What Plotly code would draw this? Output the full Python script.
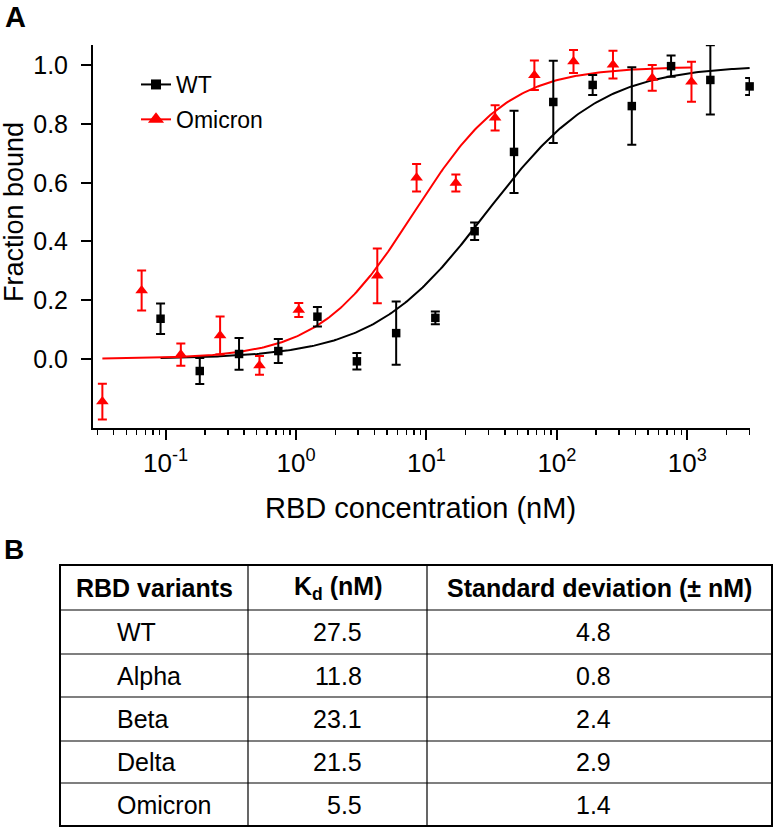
import numpy as np
import plotly.graph_objects as go

W, H = 774, 828

# ---------------- data (panel A) ----------------
wt_conc = [0.0916, 0.183, 0.366, 0.732, 1.46, 2.93, 5.86, 11.7, 23.4, 46.9,
           93.8, 188, 375, 750, 1500, 3000]
wt_frac = [0.137, -0.041, 0.017, 0.027, 0.144, -0.008, 0.088, 0.140, 0.435, 0.705,
           0.875, 0.933, 0.861, 0.997, 0.950, 0.928]
wt_err = [0.052, 0.044, 0.054, 0.041, 0.033, 0.028, 0.108, 0.022, 0.030, 0.140,
          0.140, 0.034, 0.132, 0.036, 0.118, 0.029]

om_conc = [0.0328, 0.0656, 0.131, 0.262, 0.525, 1.05, 4.2, 8.4, 16.8, 33.6,
           67.2, 134, 269, 538, 1075]
om_frac = [-0.145, 0.233, 0.015, 0.080, -0.022, 0.167, 0.283, 0.617, 0.599, 0.821,
           0.966, 1.013, 1.002, 0.957, 0.944]
om_err = [0.061, 0.068, 0.038, 0.065, 0.032, 0.024, 0.093, 0.047, 0.029, 0.043,
          0.050, 0.039, 0.047, 0.044, 0.068]

# fit parameters (Hill curve)
wt_fit = dict(k=29.0, n=1.0, bmax=1.0)
om_fit = dict(k=8.0, n=1.2, bmax=0.995)

x_tickvals = [0.1, 1, 10, 100, 1000]
x_ticktext = ["10<sup>-1</sup>", "10<sup>0</sup>", "10<sup>1</sup>", "10<sup>2</sup>", "10<sup>3</sup>"]
y_tickvals = [0.0, 0.2, 0.4, 0.6, 0.8, 1.0]

# ---------------- data (panel B) ----------------
tbl_header = ["<b>RBD variants</b>", "<b>K<sub>d</sub> (nM)</b>", "<b>Standard deviation (± nM)</b>"]
variants = ["WT", "Alpha", "Beta", "Delta", "Omicron"]
kd_vals = ["27.5", "11.8", "23.1", "21.5", "5.5"]
sd_vals = ["4.8", "0.8", "2.4", "2.9", "1.4"]

FONT = "Liberation Sans, Arial, sans-serif"
RED = "#ff0000"


def hill(x, p):
    x = np.asarray(x, dtype=float)
    return p["bmax"] * x ** p["n"] / (p["k"] ** p["n"] + x ** p["n"])


def px(x):
    return x / W


def py(y):
    return 1 - y / H


fig = go.Figure()

# fit curves
xw = np.logspace(np.log10(wt_conc[0]), np.log10(wt_conc[-1]), 300)
xo = np.logspace(np.log10(om_conc[0]), np.log10(om_conc[-1]), 300)
fig.add_trace(go.Scatter(x=xw, y=hill(xw, wt_fit), mode="lines",
                         line=dict(color="black", width=2), showlegend=False, hoverinfo="skip"))
fig.add_trace(go.Scatter(x=xo, y=hill(xo, om_fit), mode="lines",
                         line=dict(color=RED, width=2), showlegend=False, hoverinfo="skip"))

# data points
fig.add_trace(go.Scatter(x=wt_conc, y=wt_frac, mode="markers", cliponaxis=False,
                         marker=dict(symbol="square", size=8.5, color="black"),
                         error_y=dict(type="data", array=wt_err, color="black", thickness=2, width=4.5),
                         showlegend=False))
fig.add_trace(go.Scatter(x=om_conc, y=om_frac, mode="markers", cliponaxis=False,
                         marker=dict(symbol="triangle-up", size=11, color=RED),
                         error_y=dict(type="data", array=om_err, color=RED, thickness=2, width=4.5),
                         showlegend=False))

# legend entries
fig.add_trace(go.Scatter(x=[None], y=[None], mode="lines+markers", name="WT", legendgroup="wt",
                         line=dict(color="black", width=2),
                         marker=dict(symbol="square", size=10, color="black")))
fig.add_trace(go.Scatter(x=[None], y=[None], mode="lines+markers", name="Omicron", legendgroup="om",
                         line=dict(color=RED, width=2),
                         marker=dict(symbol="triangle-up", size=14, color=RED)))

annotations = []
shapes = []

# panel labels
annotations.append(dict(text="<b>A</b>", x=px(3), y=py(17), xref="paper", yref="paper",
                        showarrow=False, font=dict(size=29, color="black", family=FONT),
                        xanchor="left", yanchor="middle"))
annotations.append(dict(text="<b>B</b>", x=px(2), y=py(549), xref="paper", yref="paper",
                        showarrow=False, font=dict(size=28, color="black", family=FONT),
                        xanchor="left", yanchor="middle"))

# axis titles
annotations.append(dict(text="Fraction bound", x=px(14), y=py(212), xref="paper", yref="paper",
                        showarrow=False, textangle=-90, font=dict(size=27, color="black", family=FONT),
                        xanchor="center", yanchor="middle"))
annotations.append(dict(text="RBD concentration (nM)", x=px(420), y=py(508), xref="paper", yref="paper",
                        showarrow=False, font=dict(size=29, color="black", family=FONT),
                        xanchor="center", yanchor="middle"))

# table geometry (reference pixels)
t_left, t_right = 60, 772
col_x = [248, 427]
row_y = [565, 610, 654, 697, 741, 783, 826]

shapes.append(dict(type="rect", xref="paper", yref="paper",
                   x0=px(t_left), x1=px(t_right), y0=py(row_y[0]), y1=py(row_y[-1]),
                   line=dict(color="black", width=2)))
for cx in col_x:
    shapes.append(dict(type="line", xref="paper", yref="paper",
                       x0=px(cx), x1=px(cx), y0=py(row_y[0]), y1=py(row_y[-1]),
                       line=dict(color="black", width=1.2)))
for ry in row_y[1:-1]:
    shapes.append(dict(type="line", xref="paper", yref="paper",
                       x0=px(t_left), x1=px(t_right), y0=py(ry), y1=py(ry),
                       line=dict(color="black", width=1.2)))

col_centers = [(t_left + col_x[0]) / 2, (col_x[0] + col_x[1]) / 2, (col_x[1] + t_right) / 2]
hy = (row_y[0] + row_y[1]) / 2
for cx, txt in zip(col_centers, tbl_header):
    annotations.append(dict(text=txt, x=px(cx), y=py(hy), xref="paper", yref="paper",
                            showarrow=False, font=dict(size=25, color="black", family=FONT),
                            xanchor="center", yanchor="middle"))

for i, (v, k, s) in enumerate(zip(variants, kd_vals, sd_vals)):
    cy = (row_y[i + 1] + row_y[i + 2]) / 2
    annotations.append(dict(text=v, x=px(115), y=py(cy), xref="paper", yref="paper",
                            showarrow=False, font=dict(size=25, color="black", family=FONT),
                            xanchor="left", yanchor="middle"))
    annotations.append(dict(text=k, x=px(364), y=py(cy), xref="paper", yref="paper",
                            showarrow=False, font=dict(size=25, color="black", family=FONT),
                            xanchor="right", yanchor="middle"))
    annotations.append(dict(text=s, x=px(593), y=py(cy), xref="paper", yref="paper",
                            showarrow=False, font=dict(size=25, color="black", family=FONT),
                            xanchor="center", yanchor="middle"))

x_left_px, x_right_px = 93, 750
y_top_px, y_bot_px = 45, 428

fig.update_layout(
    width=W, height=H,
    margin=dict(l=0, r=0, t=0, b=0),
    paper_bgcolor="white", plot_bgcolor="white",
    font=dict(family=FONT, color="black"),
    showlegend=True,
    legend=dict(x=px(136), y=py(63), xanchor="left", yanchor="top",
                bgcolor="rgba(0,0,0,0)", font=dict(size=23, color="black", family=FONT),
                tracegroupgap=2, itemwidth=30),
    xaxis=dict(type="log", domain=[px(x_left_px), px(x_right_px)],
               range=[np.log10(0.0278), np.log10(3020)],
               tickmode="array", tickvals=x_tickvals, ticktext=x_ticktext,
               ticks="outside", ticklen=10, tickwidth=2, tickcolor="black",
               minor=dict(ticks="outside", ticklen=5, tickwidth=1.5, tickcolor="black", dtick="D1",
                          showgrid=False),
               showline=True, linecolor="black", linewidth=2, mirror=False,
               showgrid=False, zeroline=False,
               tickfont=dict(size=26, color="black", family=FONT), ticklabelstandoff=1),
    yaxis=dict(domain=[py(y_bot_px), py(y_top_px)],
               range=[-0.235, 1.069],
               tickmode="array", tickvals=y_tickvals, tickformat=".1f",
               ticks="outside", ticklen=10, tickwidth=2, tickcolor="black",
               showline=True, linecolor="black", linewidth=2, mirror=False,
               showgrid=False, zeroline=False,
               tickfont=dict(size=25, color="black", family=FONT), ticklabelstandoff=8),
    annotations=annotations,
    shapes=shapes,
)

# remove the browser's default 8px body margin so the figure fills the window exactly
fig.write_html("out.html",
               config={"displayModeBar": False, "staticPlot": True},
               post_script="document.body.style.margin='0px';document.body.style.padding='0px';")
